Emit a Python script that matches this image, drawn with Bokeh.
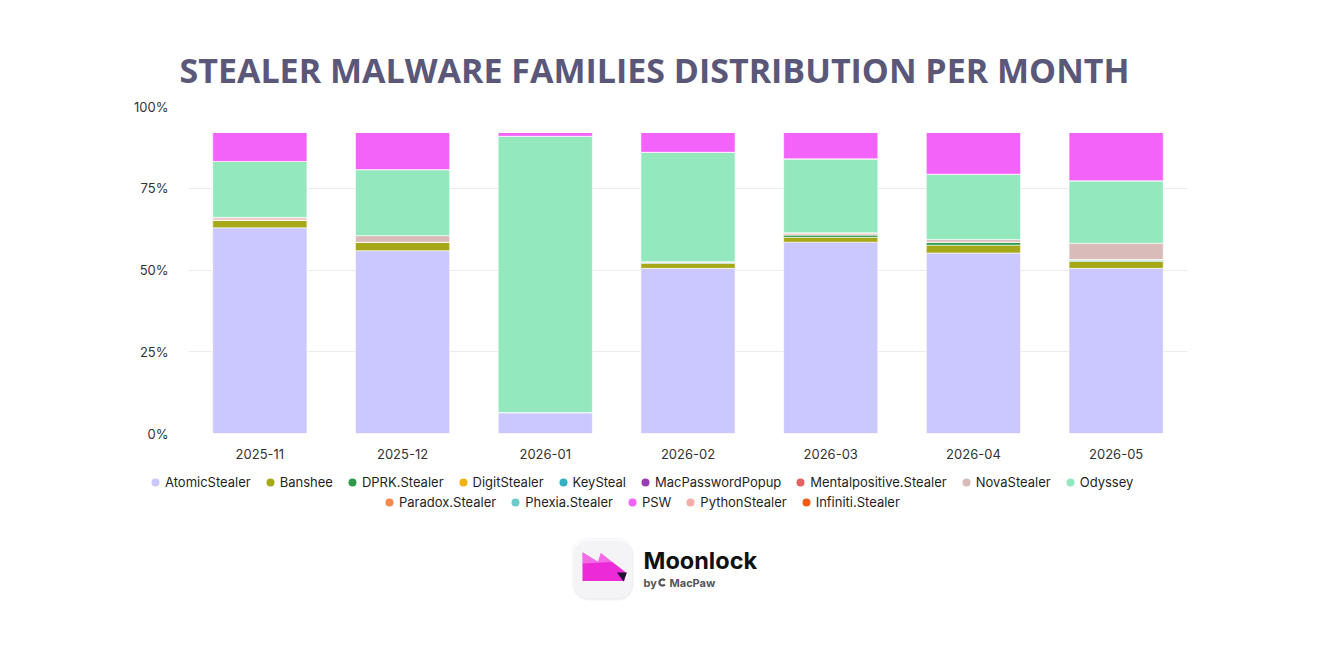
import numpy as np
from bokeh.plotting import figure
from bokeh.models import (ColumnDataSource, FactorRange, Range1d, FixedTicker,
                          PrintfTickFormatter, Legend, LegendItem, Label,
                          BoxAnnotation, PolyAnnotation)
from bokeh.embed import file_html
from bokeh.resources import INLINE

# ---- data: share of detections per family (%), by month ----
months = ["2025-11", "2025-12", "2026-01", "2026-02", "2026-03", "2026-04", "2026-05"]

families = ["AtomicStealer", "Banshee", "DPRK.Stealer", "DigitStealer", "KeySteal",
            "MacPasswordPopup", "Mentalpositive.Stealer", "NovaStealer", "Odyssey",
            "Paradox.Stealer", "Phexia.Stealer", "PSW", "PythonStealer", "Infiniti.Stealer"]

colors = ["#CBC7FF", "#A6A817", "#2E9A4A", "#F2B10C", "#36AFC0",
          "#9A3BB3", "#E2625F", "#D9BCBA", "#93E8BE",
          "#F5884A", "#6FCACA", "#F363FA", "#F2AEA8", "#F25B12"]

atomic_stealer = [62.9, 55.9, 6.4, 50.5, 58.5, 55.2, 50.5]
banshee = [2.4, 2.6, 0.0, 1.5, 1.5, 2.4, 2.1]
dprk_stealer = [0.0, 0.0, 0.0, 0.3, 0.8, 0.9, 0.3]
digit_stealer = [0.0, 0.0, 0.0, 0.0, 0.0, 0.0, 0.0]
keysteal = [0.0, 0.0, 0.0, 0.0, 0.0, 0.0, 0.3]
mac_password_popup = [0.0, 0.0, 0.0, 0.0, 0.0, 0.0, 0.0]
mentalpositive = [0.3, 0.0, 0.0, 0.2, 0.3, 0.0, 0.0]
nova_stealer = [0.5, 2.0, 0.0, 0.0, 0.3, 0.8, 5.0]
odyssey = [17.1, 20.2, 84.5, 33.5, 22.6, 20.0, 19.1]
paradox_stealer = [0.0, 0.0, 0.0, 0.0, 0.0, 0.0, 0.0]
phexia_stealer = [0.0, 0.0, 0.0, 0.0, 0.0, 0.0, 0.0]
psw = [8.9, 11.4, 1.2, 6.1, 8.1, 12.8, 14.8]
python_stealer = [0.0, 0.0, 0.0, 0.0, 0.0, 0.0, 0.0]
infiniti_stealer = [0.0, 0.0, 0.0, 0.0, 0.0, 0.0, 0.0]

series = [atomic_stealer, banshee, dprk_stealer, digit_stealer, keysteal,
          mac_password_popup, mentalpositive, nova_stealer, odyssey,
          paradox_stealer, phexia_stealer, psw, python_stealer, infiniti_stealer]

y_ticks = [0, 25, 50, 75, 100]

data = {"month": months}
for name, vals in zip(families, series):
    data[name] = vals
source = ColumnDataSource(data)

W = 1328
HEAD_H, MAIN_H = 95, 375
FOOT_H = 648 - HEAD_H - MAIN_H


def blank(h):
    f = figure(width=W, height=h, x_range=Range1d(0, 1), y_range=Range1d(0, 1),
               output_backend="svg", toolbar_location=None,
               min_border=0, min_border_left=0, min_border_right=0,
               min_border_top=0, min_border_bottom=0)
    f.axis.visible = False
    f.grid.visible = False
    f.outline_line_color = None
    f.background_fill_color = "white"
    f.border_fill_color = "white"
    return f


# ---- title strip ----
head = blank(HEAD_H)
head.add_layout(Label(x=654, y=HEAD_H - 69, x_units="screen", y_units="screen",
                      text="STEALER MALWARE FAMILIES DISTRIBUTION PER MONTH",
                      text_font="Open Sans", text_font_style="bold", text_font_size="34px",
                      text_color="#5A5778", text_align="center", text_baseline="middle"))

# ---- chart: frame spans x 188..1187, y 106..433 on the page ----
p = figure(width=W, height=MAIN_H, x_range=FactorRange(*months), y_range=Range1d(0, 100),
           output_backend="svg", toolbar_location=None,
           min_border_left=188, min_border_right=W - 1187, min_border_top=106 - HEAD_H,
           min_border_bottom=HEAD_H + MAIN_H - 433)
p.outline_line_color = None
p.background_fill_color = "white"
p.border_fill_color = "white"
p.x_range.range_padding = 0

p.vbar_stack(families, x="month", width=0.66, source=source, fill_color=colors,
             line_color="white", line_width=0.6)

p.yaxis.ticker = FixedTicker(ticks=y_ticks)
p.yaxis.formatter = PrintfTickFormatter(format="%d%%")
for ax in (p.xaxis[0], p.yaxis[0]):
    ax.axis_line_color = None
    ax.major_tick_line_color = None
    ax.minor_tick_line_color = None
    ax.major_label_text_font = "Inter"
    ax.major_label_text_font_size = "13px"
    ax.major_label_text_color = "#333333"
p.yaxis.major_label_standoff = 14
p.xaxis.major_label_standoff = 9
p.xgrid.grid_line_color = None
p.ygrid.grid_line_color = "#ECECEC"
p.ygrid.grid_line_width = 1

# ---- footer: legend rows and brand mark ----
foot = blank(FOOT_H)


def fx(cx):
    return cx


def fy(cy):
    return 648 - cy


# legend swatches: one off-canvas point per family so the key can draw its dot
dots = [foot.scatter(x=[-10], y=[-10], marker="circle", size=9, fill_color=c,
                     line_color=None) for c in colors]
items = [LegendItem(label=n, renderers=[r]) for n, r in zip(families, dots)]


def make_legend(its, x, y):
    return Legend(items=its, orientation="horizontal", location=(x, y),
                  label_text_font="Inter", label_text_font_size="13px",
                  label_text_color="#1F1F1F", glyph_width=20, glyph_height=20,
                  label_standoff=0, spacing=9, padding=0, margin=0,
                  border_line_color=None, background_fill_alpha=0,
                  label_height=20)


foot.add_layout(make_legend(items[:9], fx(145), fy(492)))
foot.add_layout(make_legend(items[9:], fx(379), fy(512)))


def box(l, r, t, b, **kw):
    return BoxAnnotation(left=fx(l), right=fx(r), top=fy(t), bottom=fy(b),
                         left_units="screen", right_units="screen",
                         top_units="screen", bottom_units="screen", **kw)


def poly(xs, ys, color, alpha=1.0):
    return PolyAnnotation(xs=[fx(v) for v in xs], ys=[fy(v) for v in ys],
                          xs_units="screen", ys_units="screen",
                          fill_color=color, fill_alpha=alpha, line_color=None)


foot.add_layout(box(573, 633, 540, 600, fill_color="#000000", fill_alpha=0.05,
                    line_color=None, border_radius=15))
foot.add_layout(box(572, 632, 538, 598, fill_color="#F7F6FA", line_color="#E6E4EC",
                    line_width=1, border_radius=14))
sail_x = [582, 597.6, 600.3, 625.4, 623.8, 582]
sail_y = [551.8, 561.2, 552.5, 571.9, 580.5, 580.5]
foot.add_layout(poly(sail_x, sail_y, "#EC2AD8"))
glow_x = [582, 597.6, 600.3, 612, 582]
glow_y = [551.8, 561.2, 552.5, 561.5, 563]
foot.add_layout(poly(glow_x, glow_y, "#FFFFFF", 0.3))
tri_x = [616.4, 626.4, 623.1]
tri_y = [571.9, 571.9, 581.0]
foot.add_layout(poly(tri_x, tri_y, "#1E1530"))

foot.add_layout(Label(x=fx(643), y=fy(560), x_units="screen", y_units="screen",
                      text="Moonlock", text_font="Inter", text_font_style="bold",
                      text_font_size="23.5px", text_color="#111111", text_baseline="middle"))
foot.add_layout(Label(x=fx(643), y=fy(582), x_units="screen", y_units="screen",
                      text="by", text_font="Inter", text_font_style="bold",
                      text_font_size="11px", text_color="#555555", text_baseline="middle"))
foot.add_layout(Label(x=fx(669), y=fy(582), x_units="screen", y_units="screen",
                      text="MacPaw", text_font="Inter", text_font_style="bold",
                      text_font_size="11px", text_color="#555555", text_baseline="middle"))
# small ring mark between "by" and "MacPaw"
ang = np.radians(np.linspace(40, 320, 24))
ring_x = list(662 + 4.2 * np.cos(ang)) + list(662 + 2.0 * np.cos(ang[::-1]))
ring_y = list(582 - 4.2 * np.sin(ang)) + list(582 - 2.0 * np.sin(ang[::-1]))
foot.add_layout(poly(ring_x, ring_y, "#555555"))

# three independent roots stacked top to bottom
open("out.html", "w").write(file_html([head, p, foot], INLINE))
